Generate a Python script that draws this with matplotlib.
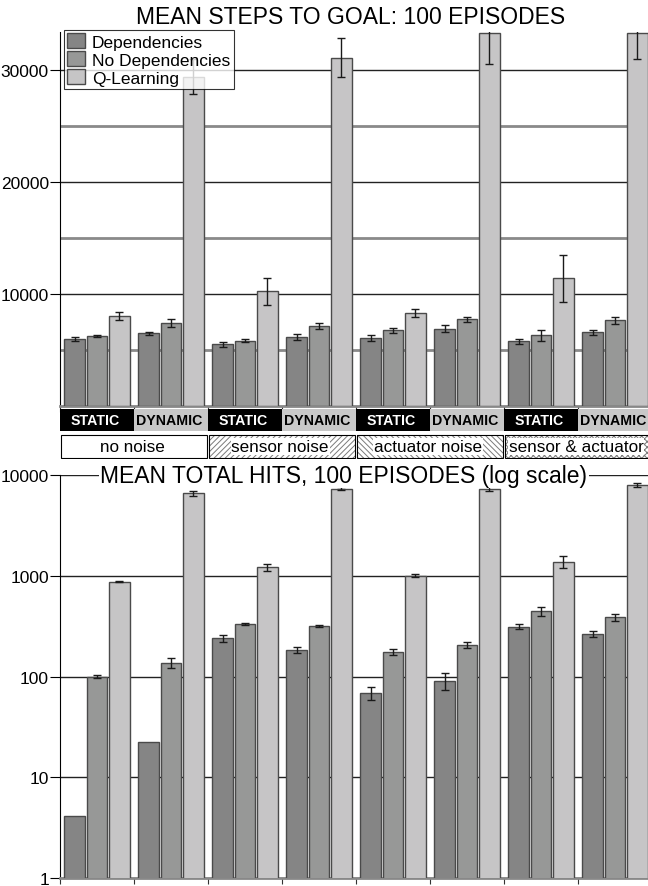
import numpy as np
import matplotlib.pyplot as plt
from matplotlib.patches import Rectangle

plt.rcParams['font.family'] = ['Liberation Sans', 'DejaVu Sans']
plt.rcParams['hatch.linewidth'] = 0.7

# ---- data ----
series = ['Dependencies', 'No Dependencies', 'Q-Learning']
modes = ['STATIC', 'DYNAMIC'] * 4
noise = ['no noise', 'sensor noise', 'actuator noise', 'sensor & actuator']

steps_dep = [6000, 6500, 5500, 6160, 6070, 6900, 5770, 6580]
steps_dep_err = [200, 150, 200, 250, 250, 300, 200, 250]
steps_nodep = [6250, 7400, 5830, 7140, 6760, 7740, 6310, 7650]
steps_nodep_err = [100, 350, 150, 300, 200, 200, 500, 300]
steps_q = [8050, 29400, 10240, 31100, 8270, 33300, 11400, 33350]
steps_q_err = [350, 1560, 1190, 1740, 350, 2800, 2120, 2400]

hits_dep = [4.1, 22.5, 239, 184, 68, 91, 313, 264]
hits_dep_err = [0, 0, 20, 12, 10, 18, 18, 18]
hits_nodep = [100, 137, 333, 318, 176, 206, 443, 389]
hits_nodep_err = [4, 15, 10, 10, 12, 15, 45, 30]
hits_q = [876, 6590, 1219, 7310, 1002, 7310, 1374, 7890]
hits_q_err = [15, 400, 100, 250, 30, 400, 190, 350]

colors = ['#858585', '#979897', '#c6c5c6']
edge = '#4a4a4a'
W, H = 648, 887


def px_axes(x0, y0, x1, y1):
    return fig.add_axes([x0 / W, 1 - y1 / H, (x1 - x0) / W, (y1 - y0) / H])


def draw_bars(ax, vals, errs):
    idx = np.arange(len(modes))
    for k, (v, e) in enumerate(zip(vals, errs)):
        x = idx + 0.2 + 0.3 * k
        ax.bar(x, v, width=0.28, color=colors[k], edgecolor=edge,
               linewidth=1, label=series[k], zorder=3)
        e = np.array(e, dtype=float)
        ok = e > 0
        ax.errorbar(x[ok], np.array(v)[ok], yerr=e[ok], fmt='none',
                    ecolor='#1a1a1a', elinewidth=1, capsize=3, capthick=1,
                    zorder=4)
    ax.set_xlim(0, len(modes))
    ax.set_xticks(np.arange(len(modes) + 1))
    ax.set_xticklabels([])
    ax.tick_params(axis='x', length=4, color='#333333')
    ax.tick_params(axis='y', which='major', length=7, labelsize=12.5, pad=1)
    ax.grid(axis='y', which='major', color='#222222', linewidth=1, zorder=0)
    ax.set_axisbelow(True)
    for s in ['top', 'right']:
        ax.spines[s].set_visible(False)
    ax.spines['bottom'].set_color('#888888')
    ax.spines['bottom'].set_linewidth(2)


fig = plt.figure(figsize=(W / 100, H / 100), dpi=100)

# ---- top chart ----
ax1 = px_axes(60, 33, 652, 407)
draw_bars(ax1, [steps_dep, steps_nodep, steps_q],
          [steps_dep_err, steps_nodep_err, steps_q_err])
ax1.set_ylim(0, 33400)
ax1.set_yticks([10000, 20000, 30000])
ax1.set_yticks([5000, 15000, 25000], minor=True)
ax1.tick_params(axis='y', which='minor', length=0)
ax1.grid(axis='y', which='minor', color='#8a8a8a', linewidth=2, zorder=0)
leg = ax1.legend(loc='upper left', bbox_to_anchor=(64 / W, 1 - 31 / H),
                 bbox_transform=fig.transFigure, fontsize=12.5, frameon=True,
                 fancybox=False, borderpad=0.2, labelspacing=0.1,
                 handlelength=1.0, handleheight=0.9, handletextpad=0.4,
                 borderaxespad=0)
leg.get_frame().set_edgecolor('black')
leg.get_frame().set_linewidth(0.8)
fig.text(351 / W, 1 - 17 / H, 'MEAN STEPS TO GOAL: 100 EPISODES',
         ha='center', va='center', fontsize=16.5)

# ---- condition label rows ----
lab = px_axes(60, 409, 652, 460)
lab.set_xlim(0, len(modes))
lab.set_ylim(51, 0)
lab.axis('off')
for i, m in enumerate(modes):
    fc, tc = ('black', 'white') if m == 'STATIC' else ('#c8c8c8', 'black')
    lab.add_patch(Rectangle((i, 1), 1, 22, facecolor=fc, edgecolor='none'))
    lab.text(i + 0.48, 12.5, m, ha='center', va='center', color=tc,
             fontsize=10.2, fontweight='bold')
hatches = [None, '//////', '\\\\\\\\\\\\', 'xxxxxx']
for j, name in enumerate(noise):
    x0 = 2 * j + 0.015
    if hatches[j]:
        lab.add_patch(Rectangle((x0, 27), 1.97, 23, facecolor='white',
                                edgecolor='#7a7a7a', hatch=hatches[j], linewidth=0))
    lab.add_patch(Rectangle((x0, 27), 1.97, 23, facecolor='none',
                            edgecolor='black', linewidth=0.8))
    lab.text(x0 + 0.96, 38.5, name, ha='center', va='center', fontsize=12.3,
             bbox=dict(facecolor='white', edgecolor='none', pad=0.5))

# ---- bottom chart ----
ax2 = px_axes(60, 476, 652, 879)
ax2.set_yscale('log')
draw_bars(ax2, [hits_dep, hits_nodep, hits_q],
          [hits_dep_err, hits_nodep_err, hits_q_err])
ax2.set_ylim(1, 10000)
ax2.set_yticks([1, 10, 100, 1000, 10000])
ax2.set_yticklabels(['1', '10', '100', '1000', '10000'])
ax2.minorticks_off()
ax2.text((344 - 60) / 592, 1.0, 'MEAN TOTAL HITS, 100 EPISODES (log scale)',
         transform=ax2.transAxes, ha='center', va='center', fontsize=16.5,
         zorder=6, bbox=dict(facecolor='white', edgecolor='none', pad=1))

fig.savefig('out.png', dpi=100)
